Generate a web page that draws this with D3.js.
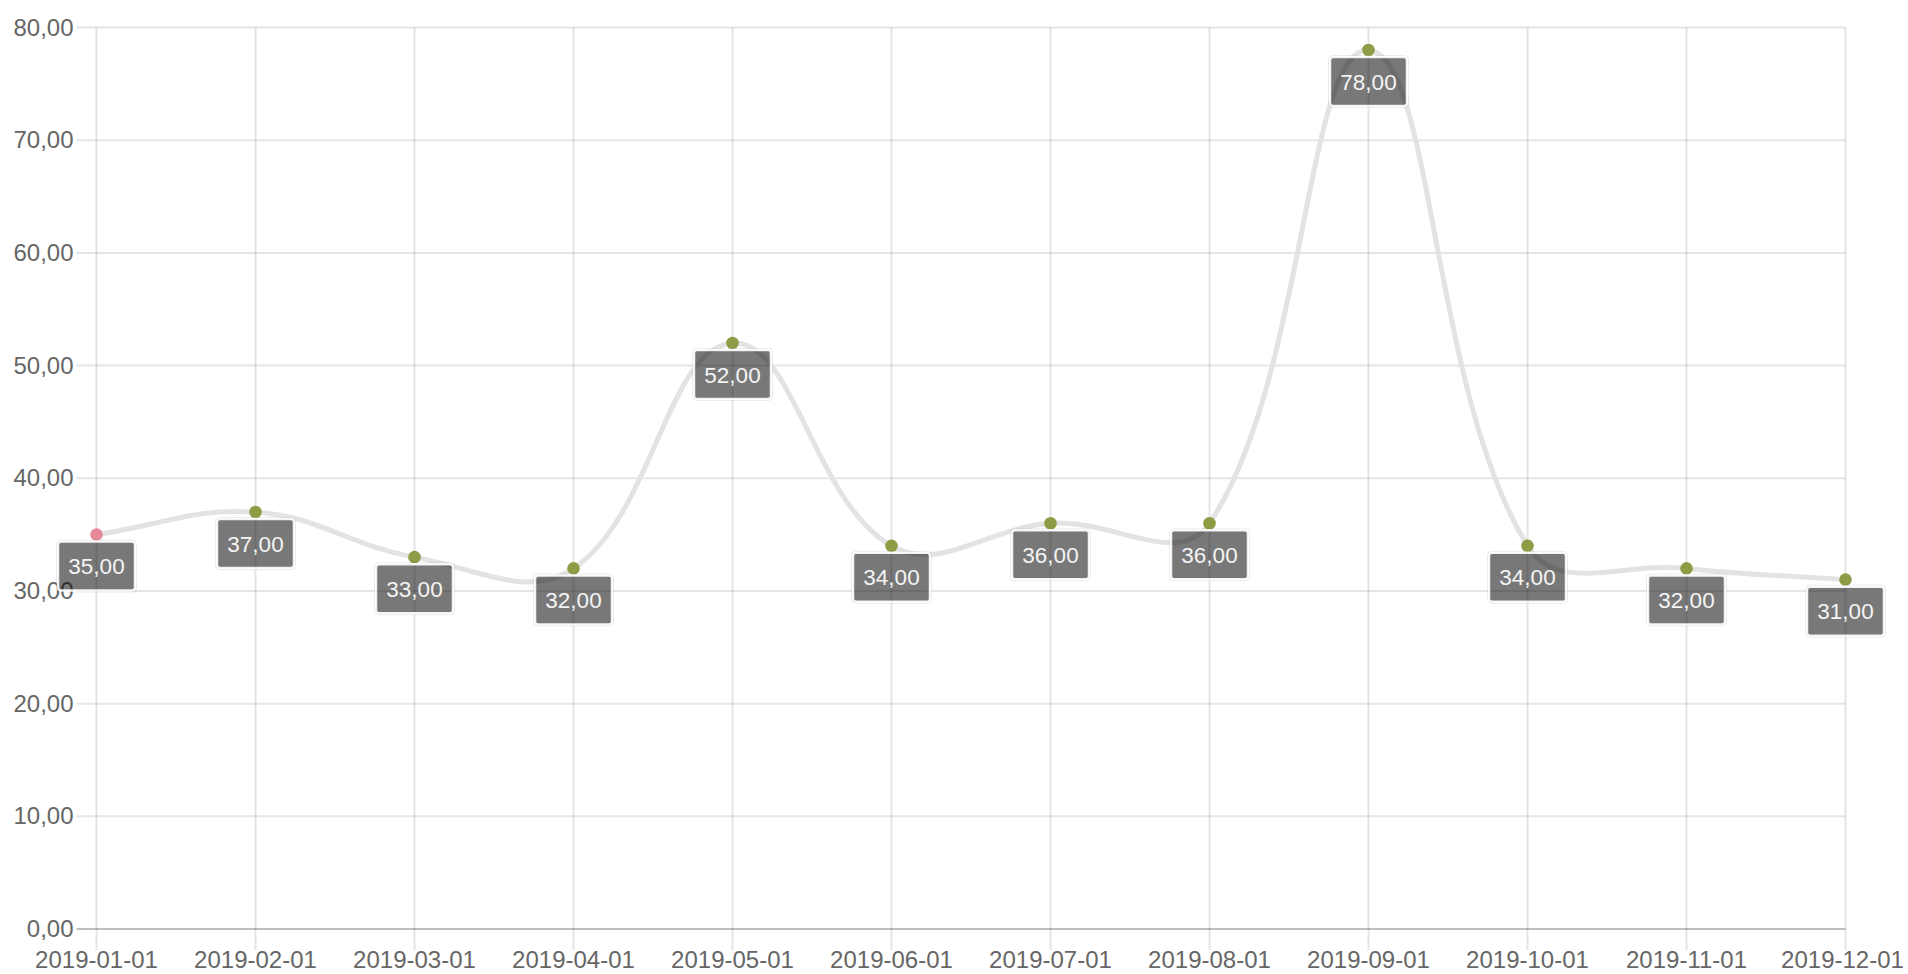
<!DOCTYPE html>
<html>
<head>
<meta charset="utf-8">
<script src="https://cdn.jsdelivr.net/npm/d3@7"></script>
<style>
html,body{margin:0;padding:0;background:#fff;}
svg{display:block;font-family:"Liberation Sans",Arial,sans-serif;}
</style>
</head>
<body>
<svg id="chart" width="1908" height="974"></svg>
<script>
const categories = ["2019-01-01","2019-02-01","2019-03-01","2019-04-01","2019-05-01","2019-06-01","2019-07-01","2019-08-01","2019-09-01","2019-10-01","2019-11-01","2019-12-01"];
const values = [35,37,33,32,52,34,36,36,78,34,32,31];
const yTicks = [0,10,20,30,40,50,60,70,80];
const pointColors = ["#e8899a","#8e9d45","#8e9d45","#8e9d45","#8e9d45","#8e9d45","#8e9d45","#8e9d45","#8e9d45","#8e9d45","#8e9d45","#8e9d45"];

(function(){
const svg = d3.select("#chart");
const pLeft = 96.5, pRight = 1845.5, pTop = 27.5, pBottom = 929;
const fmt = v => d3.format(".2f")(v).replace(".", ",");

const x = d3.scalePoint().domain(categories).range([pLeft, pRight]);
const y = d3.scaleLinear().domain([0, 80]).range([pBottom, pTop]);

// grid
const grid = svg.append("g");
grid.selectAll("line.h").data(yTicks).join("line")
  .attr("x1", pLeft - 20).attr("x2", pRight)
  .attr("y1", d => y(d)).attr("y2", d => y(d))
  .attr("stroke", d => d === 0 ? "rgba(0,0,0,0.25)" : "rgba(0,0,0,0.1)")
  .attr("stroke-width", 2);
grid.selectAll("line.v").data(categories).join("line")
  .attr("x1", d => x(d)).attr("x2", d => x(d))
  .attr("y1", pTop).attr("y2", pBottom + 21)
  .attr("stroke", "rgba(0,0,0,0.1)")
  .attr("stroke-width", 2);

// y labels
svg.append("g").selectAll("text").data(yTicks).join("text")
  .attr("x", pLeft - 23).attr("y", d => y(d) + 8)
  .attr("text-anchor", "end")
  .attr("font-size", 24).attr("fill", "#666")
  .text(fmt);

// x labels
svg.append("g").selectAll("text").data(categories).join("text")
  .attr("x", (d, i) => x(d) - (i === categories.length - 1 ? 3 : 0))
  .attr("y", 968)
  .attr("text-anchor", "middle")
  .attr("font-size", 24).attr("fill", "#666")
  .text(d => d);

// Chart.js-style spline
const pts = values.map((v, i) => ({x: x(categories[i]), y: y(v)}));
const t = 0.4;
const clampY = v => Math.max(pTop, Math.min(pBottom, v));
const cps = pts.map((p, i) => {
  const prev = pts[i - 1] || p, next = pts[i + 1] || p;
  const d01 = Math.hypot(p.x - prev.x, p.y - prev.y);
  const d12 = Math.hypot(next.x - p.x, next.y - p.y);
  let s01 = d01 / (d01 + d12), s12 = d12 / (d01 + d12);
  if (isNaN(s01)) s01 = 0; if (isNaN(s12)) s12 = 0;
  const fa = t * s01, fb = t * s12;
  return {
    px: p.x - fa * (next.x - prev.x), py: clampY(p.y - fa * (next.y - prev.y)),
    nx: p.x + fb * (next.x - prev.x), ny: clampY(p.y + fb * (next.y - prev.y))
  };
});
const path = d3.path();
path.moveTo(pts[0].x, pts[0].y);
for (let i = 1; i < pts.length; i++) {
  path.bezierCurveTo(cps[i - 1].nx, cps[i - 1].ny, cps[i].px, cps[i].py, pts[i].x, pts[i].y);
}
svg.append("path").attr("d", path.toString())
  .attr("fill", "none").attr("stroke", "#e3e3e3").attr("stroke-width", 5);

// points
svg.append("g").selectAll("circle").data(values).join("circle")
  .attr("cx", (d, i) => x(categories[i])).attr("cy", d => y(d))
  .attr("r", 6.3).attr("fill", (d, i) => pointColors[i]);

// labels
const lab = svg.append("g").selectAll("g").data(values).join("g")
  .attr("transform", (d, i) => `translate(${x(categories[i])},${y(d) + 31.5})`);
lab.append("rect")
  .attr("x", -38.5).attr("y", -24.5).attr("width", 77).attr("height", 49)
  .attr("rx", 3)
  .attr("fill", "rgba(0,0,0,0.53)")
  .attr("stroke", "rgba(255,255,255,0.9)").attr("stroke-width", 2.5);
lab.append("rect")
  .attr("x", -40).attr("y", -26).attr("width", 80).attr("height", 52)
  .attr("rx", 4)
  .attr("fill", "none")
  .attr("stroke", "rgba(0,0,0,0.08)").attr("stroke-width", 1);
lab.append("text")
  .attr("text-anchor", "middle").attr("y", 8)
  .attr("font-size", 22.5).attr("fill", "#f4f4f4")
  .text(fmt);
})();
</script>
</body>
</html>
